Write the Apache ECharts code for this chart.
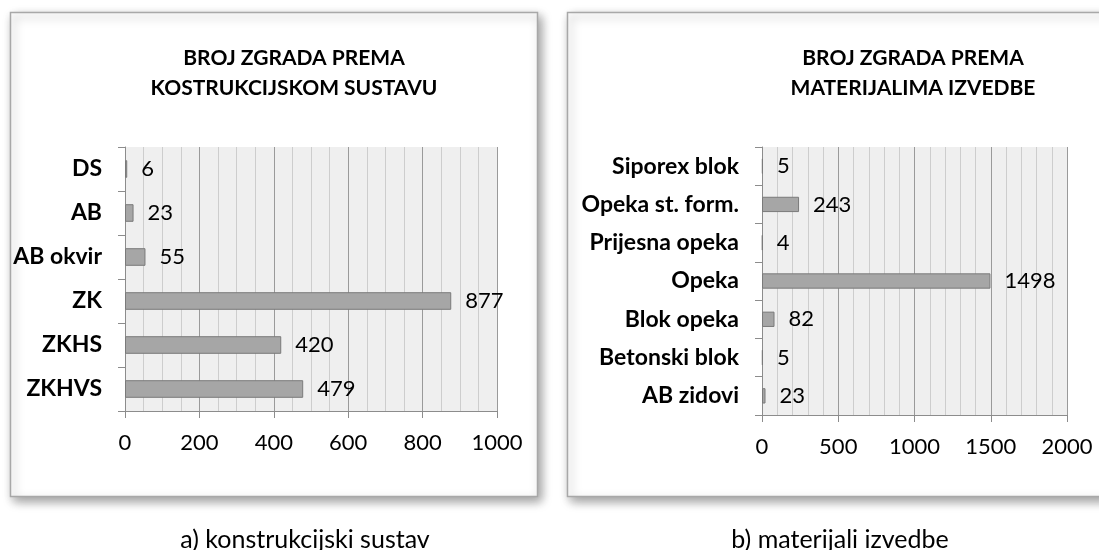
<!DOCTYPE html>
<html>
<head>
<meta charset="utf-8">
<script src="https://cdn.jsdelivr.net/npm/echarts@6/dist/echarts.min.js"></script>
<style>
  html, body { margin: 0; padding: 0; background: #fff; }
  #chart { width: 1099px; height: 550px; }
</style>
</head>
<body>
<div id="chart"></div>
<script>
// a) buildings by structural system
const systemCategories = ['DS', 'AB', 'AB okvir', 'ZK', 'ZKHS', 'ZKHVS'];
const systemCounts = [6, 23, 55, 877, 420, 479];
const systemTicks = [0, 200, 400, 600, 800, 1000];

// b) buildings by wall material
const materialCategories = ['Siporex blok', 'Opeka st. form.', 'Prijesna opeka', 'Opeka', 'Blok opeka', 'Betonski blok', 'AB zidovi'];
const materialCounts = [5, 243, 4, 1498, 82, 5, 23];
const materialTicks = [0, 500, 1000, 1500, 2000];

const titleA = ['BROJ ZGRADA PREMA', 'KOSTRUKCIJSKOM SUSTAVU'];
const titleB = ['BROJ ZGRADA PREMA', 'MATERIJALIMA IZVEDBE'];
const captionA = 'a) konstrukcijski sustav';
const captionB = 'b) materijali izvedbe';

const FONT = 'Lato, "Open Sans", sans-serif';
const chart = echarts.init(document.getElementById('chart'), null, { renderer: 'canvas' });

function frame(x, y, w, h) {
  return {
    type: 'rect', z: -10, silent: true,
    shape: { x: x, y: y, width: w, height: h },
    style: {
      fill: '#ffffff', stroke: '#a8a8a8', lineWidth: 1.5,
      shadowBlur: 10, shadowOffsetX: 3, shadowOffsetY: 4, shadowColor: 'rgba(0,0,0,0.38)'
    }
  };
}

function valueAxis(gridIndex, ticks, splitN) {
  return {
    type: 'value', gridIndex: gridIndex,
    min: ticks[0], max: ticks[ticks.length - 1], interval: ticks[1] - ticks[0],
    axisLine: { show: true, lineStyle: { color: '#8c8c8c', width: 1 } },
    axisTick: { show: true, length: 7, lineStyle: { color: '#8c8c8c' } },
    axisLabel: { color: '#000', fontFamily: FONT, fontSize: 22, margin: 21,
      formatter: function (v) { return String(v); } },
    splitLine: { show: true, lineStyle: { color: '#9a9a9a', width: 1 } },
    minorTick: { show: false, splitNumber: splitN },
    minorSplitLine: { show: true, lineStyle: { color: '#cdcdcd', width: 1 } }
  };
}

function categoryAxis(gridIndex, cats) {
  return {
    type: 'category', gridIndex: gridIndex, data: cats, inverse: true,
    axisLine: { show: true, lineStyle: { color: '#8c8c8c', width: 1 } },
    axisTick: { show: true, length: 7, lineStyle: { color: '#8c8c8c' } },
    axisLabel: { color: '#000', fontFamily: FONT, fontSize: 23, fontWeight: 'bold', margin: 23 },
    splitLine: { show: false }
  };
}

function barSeries(idx, values) {
  return {
    type: 'bar', xAxisIndex: idx, yAxisIndex: idx, data: values, barWidth: '40%',
    itemStyle: { color: '#a6a6a6', borderColor: '#7a7a7a', borderWidth: 1 },
    label: { show: true, position: 'right', distance: 14, color: '#000', fontFamily: FONT, fontSize: 22 },
    silent: true, animation: false
  };
}

function titleText(x, y, lines) {
  return {
    type: 'text', z: 10, silent: true,
    style: {
      x: x, y: y, text: lines.join('\n'), textAlign: 'center', textVerticalAlign: 'top',
      font: 'bold 21px ' + FONT, fill: '#000', lineHeight: 30
    }
  };
}

function caption(x, y, text) {
  return {
    type: 'text', silent: true,
    style: { x: x, y: y, text: text, textAlign: 'center', textVerticalAlign: 'middle',
      font: '25px ' + FONT, fill: '#000' }
  };
}

chart.setOption({
  animation: false,
  grid: [
    { left: 125, top: 147, width: 372, height: 264, show: true, backgroundColor: '#efefef', borderWidth: 0 },
    { left: 762, top: 147, width: 305, height: 268, show: true, backgroundColor: '#efefef', borderWidth: 0 }
  ],
  xAxis: [valueAxis(0, systemTicks, 4), valueAxis(1, materialTicks, 5)],
  yAxis: [categoryAxis(0, systemCategories), categoryAxis(1, materialCategories)],
  series: [barSeries(0, systemCounts), barSeries(1, materialCounts)],
  graphic: [
    frame(10.5, 12.5, 527, 484),
    frame(567.5, 12.5, 545, 484),
    titleText(294, 43, titleA),
    titleText(913, 43, titleB),
    caption(305, 540, captionA),
    caption(840, 540, captionB)
  ]
});
</script>
</body>
</html>
